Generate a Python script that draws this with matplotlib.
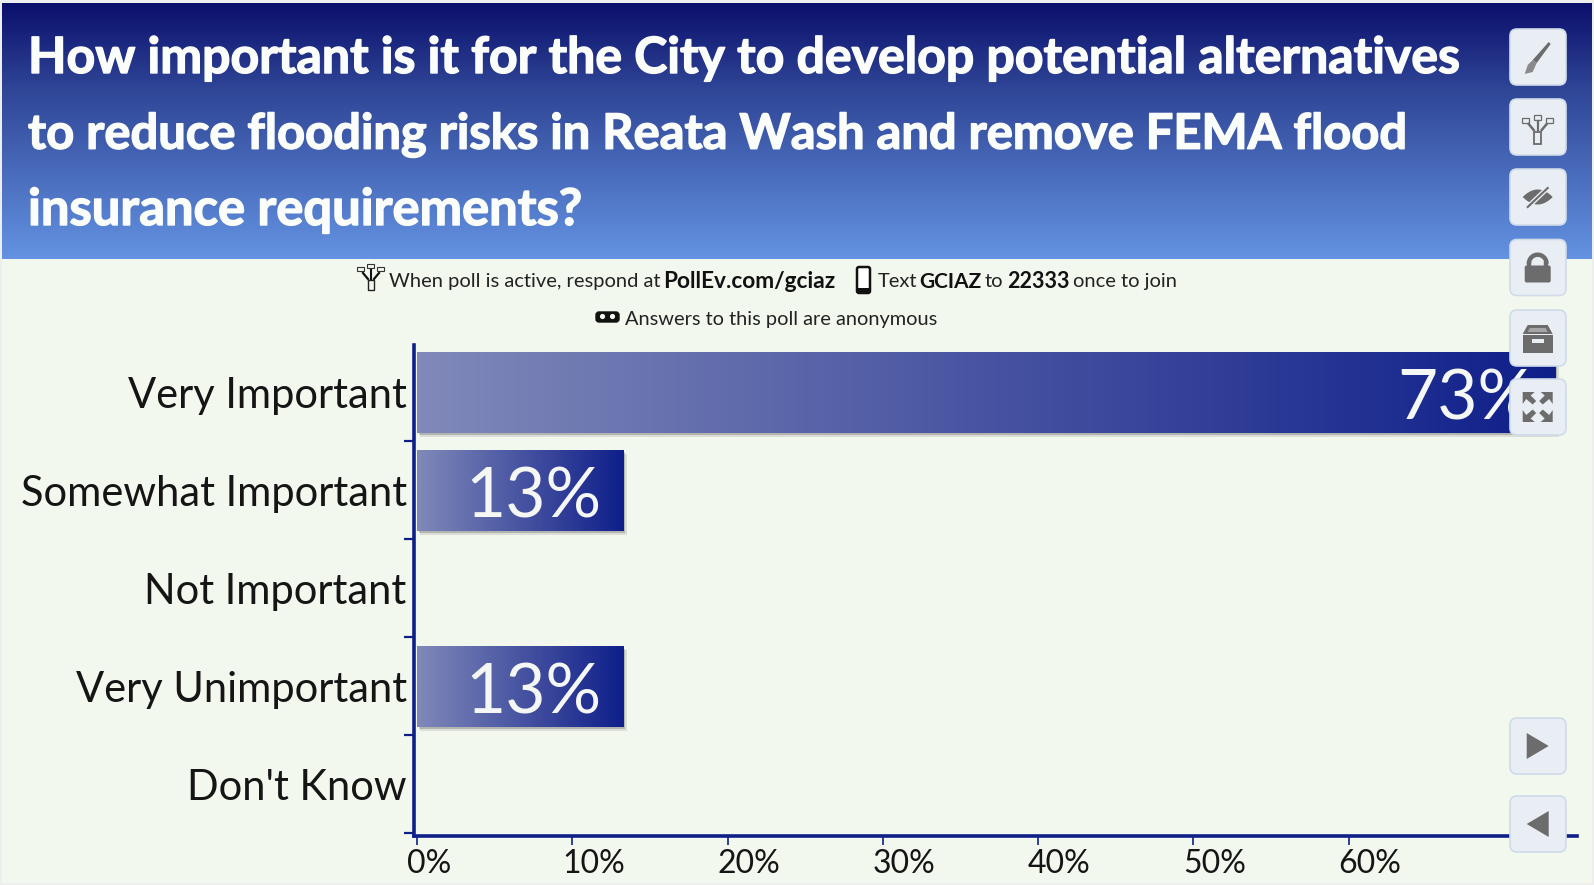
import numpy as np
import matplotlib
matplotlib.use('Agg')
import matplotlib.pyplot as plt
import matplotlib.patheffects as pe
from matplotlib.patches import FancyBboxPatch, Polygon, Rectangle, Circle
from matplotlib.ticker import FuncFormatter
from matplotlib.colors import LinearSegmentedColormap
from matplotlib.transforms import ScaledTranslation

W, H = 1594, 885
FONT = 'Lato'
NAVY = '#0f1f8a'
BG = '#f3f8ef'

categories = ['Very Important', 'Somewhat Important', 'Not Important', 'Very Unimportant', "Don't Know"]
shares = [73.3, 13.3, 0, 13.3, 0]
share_labels = ['73%', '13%', '', '13%', '']
x_ticks = [0, 10, 20, 30, 40, 50, 60]
title_lines = ['How important is it for the City to develop potential alternatives',
               'to reduce flooding risks in Reata Wash and remove FEMA flood',
               'insurance requirements?']

fig = plt.figure(figsize=(W/100, H/100), dpi=100, facecolor='#eeeeee')

page = fig.add_axes([0, 0, 1, 1], zorder=0)
page.axis('off')
page.add_patch(Rectangle((2, 3), 1590, 880, fc=BG, ec='none'))
hdr = LinearSegmentedColormap.from_list('h', ['#0b0f6c', '#2f4596', '#4a6cbc', '#6393e2'])
page.imshow(np.linspace(0, 1, 256)[:, None], cmap=hdr, extent=(2, 1592, 259, 3), aspect='auto', zorder=1)
page.set_xlim(0, W); page.set_ylim(H, 0)

for y, size, line in zip((58.5, 134.5, 210.5), (36, 35.2, 36.5), title_lines):
    page.text(28, y, line, color='#fbfdfb', fontsize=size, fontweight='bold', family=FONT, va='center', ha='left', zorder=3,
              path_effects=[pe.withStroke(linewidth=1.0, foreground='#fbfdfb')])

reg = dict(family=FONT, fontsize=14.5, va='center', ha='left', color='#222222', zorder=3)
bold = dict(family=FONT, va='center', ha='left', color='#111111', fontweight='bold', zorder=3)
ty = 281.5
page.text(389, ty, 'When poll is active, respond at', **reg)
page.text(663, ty, 'PollEv.com/gciaz', fontsize=16.3, **bold)
page.text(878, ty, 'Text', **reg)
page.text(919, ty, 'GCIAZ', fontsize=15, **bold)
page.text(985, ty, 'to', **reg)
page.text(1007.5, ty, '22333', fontsize=15.5, **bold)
page.text(1073.5, ty, 'once to join', **reg)
page.text(625, 320, 'Answers to this poll are anonymous', **{**reg, 'fontsize': 14.4})

# chart
ax = fig.add_axes([417/W, 1-833/H, (1577-417)/W, (833-342.5)/H], zorder=2)
ax.patch.set_alpha(0)
pos = np.arange(len(categories))
shadow = [pe.SimplePatchShadow(offset=(2.4, -2.4), alpha=0.10, shadow_rgbFace='k'),
          pe.SimplePatchShadow(offset=(1.4, -1.4), alpha=0.18, shadow_rgbFace='k'), pe.Normal()]
bars = ax.barh(pos + 0.012, shares, height=0.825, color=NAVY, zorder=1, path_effects=shadow)
cm = LinearSegmentedColormap.from_list('b', ['#8089b9', '#0f1f8a'])
for b, lab in zip(bars, share_labels):
    if b.get_width() == 0:
        continue
    x0, y0, w, h = b.get_x(), b.get_y(), b.get_width(), b.get_height()
    ax.imshow(np.linspace(0, 1, 256)[None, :], cmap=cm, extent=(x0, x0+w, y0+h, y0), aspect='auto', zorder=2)
    ax.text(x0+w-1.4, y0+h/2+0.07, lab, color='#f4f7f4', fontsize=50, family=FONT, va='center', ha='right', zorder=3)
ax.set_ylim(len(categories)-0.5, -0.5)
ax.set_xlim(0, 74.7)

# spines first: moving a spine resets the axis ticks
for s in ('top', 'right'):
    ax.spines[s].set_visible(False)
ax.spines['left'].set_color(NAVY); ax.spines['left'].set_linewidth(2.6)
ax.spines['left'].set_position(('outward', 2.2))
ax.spines['left'].set_bounds(4.53, -0.475)
ax.spines['bottom'].set_color(NAVY); ax.spines['bottom'].set_linewidth(2.6)
ax.spines['bottom'].set_position(('outward', 2.2))
ax.spines['bottom'].set_bounds(-0.2, 74.7)

ax.set_xticks(x_ticks)
ax.xaxis.set_major_formatter(FuncFormatter(lambda v, p: f'{v:.0f}%'))
ax.set_yticks(pos, categories)
ax.set_yticks(np.arange(1, len(categories)+1)-0.5, minor=True)
ax.tick_params(axis='y', which='major', length=0, pad=5.2)
ax.tick_params(axis='y', which='minor', length=7.2, width=1.6, color=NAVY)
ax.tick_params(axis='x', length=6.2, width=1.2, color=NAVY, pad=3)
xoff = ScaledTranslation(-10/100, 0, fig.dpi_scale_trans)
yoff = ScaledTranslation(0, -1/100, fig.dpi_scale_trans)
for t in ax.get_xticklabels():
    t.set_family(FONT); t.set_ha('left'); t.set_fontsize(23); t.set_color('#151515')
    t.set_transform(t.get_transform() + xoff)
for t in ax.get_yticklabels():
    t.set_family(FONT); t.set_fontsize(30); t.set_color('#151515')
    t.set_transform(t.get_transform() + yoff)

# buttons overlay
top = fig.add_axes([0, 0, 1, 1], zorder=5)
top.set_xlim(0, W); top.set_ylim(H, 0); top.axis('off')
G = '#6c6c6c'
PANEL = '#e9eef5'
centers = [57, 127, 197, 267.5, 338, 407, 746, 824]
for cy in centers:
    top.add_patch(FancyBboxPatch((1516, cy-22), 44, 44, boxstyle='round,pad=6,rounding_size=7', fc=PANEL, ec='#cfdbe8', lw=1.2))
cx = 1537.7
# brush
c = centers[0]
top.add_patch(Polygon([(cx+11, c-15), (cx+13, c-13), (cx-1, c+6), (cx-5, c+3)], fc=G))
top.add_patch(Polygon([(cx-5, c+3), (cx-1, c+6), (cx-5, c+15), (cx-13, c+17), (cx-10, c+8)], fc='#8a8a8a'))
# network
c = centers[1]
for dx, dy in ((-12, -7), (0, -10), (12, -7)):
    top.add_patch(Rectangle((cx+dx-3.5, c+dy-2.5), 7, 5, fc='none', ec=G, lw=0.9))
top.plot([cx, cx], [c-6, c+3], color=G, lw=1.6)
top.plot([cx-9, cx-4], [c-3, c+3], color=G, lw=1.8)
top.plot([cx+9, cx+4], [c-3, c+3], color=G, lw=1.8)
top.add_patch(Rectangle((cx-3.5, c+5), 7, 12, fc='none', ec=G, lw=1.3))
# eye
c = centers[2]
t = np.linspace(-15, 15, 40)
top.add_patch(Polygon(np.r_[np.c_[t, -7.5*(1-(t/15)**2)], np.c_[t[::-1], 7.5*(1-(t[::-1]/15)**2)]] + [cx, c], fc=G))
top.plot([cx-10, cx+10], [c+10, c-9], color=PANEL, lw=3.5)
top.plot([cx-10, cx+10], [c+10, c-9], color=G, lw=1.5)
# lock
c = centers[3]
top.add_patch(FancyBboxPatch((cx-12, c-1), 24, 15, boxstyle='round,pad=1,rounding_size=2', fc=G, ec='none'))
a = np.radians(np.linspace(180, 360, 30))
top.plot(cx+8.8*np.cos(a), c-4+8.8*np.sin(a), color=G, lw=3.2, solid_capstyle='butt')
top.plot([cx-8.8, cx-8.8], [c-4, c], color=G, lw=3.2)
top.plot([cx+8.8, cx+8.8], [c-4, c], color=G, lw=3.2)
# archive
c = centers[4]
top.add_patch(Polygon([(cx-15, c-4), (cx-10, c-13), (cx+10, c-13), (cx+15, c-4)], fc=G))
top.add_patch(Rectangle((cx-15, c-3), 30, 18, fc=G))
top.add_patch(Rectangle((cx-6, c+1), 12, 4, fc=PANEL))
top.add_patch(Polygon([(cx-10, c-6), (cx-8, c-10), (cx+8, c-10), (cx+10, c-6)], fc='#a5a5a5'))
# expand
c = centers[5]
for sx in (-1, 1):
    for sy in (-1, 1):
        top.add_patch(Polygon([(cx+sx*15, c+sy*15), (cx+sx*3, c+sy*15), (cx+sx*7, c+sy*11.5), (cx+sx*1.5, c+sy*6),
                               (cx+sx*5, c+sy*2.5), (cx+sx*11.5, c+sy*8), (cx+sx*15, c+sy*3)], fc=G))
# arrows
top.add_patch(Polygon([(cx-11, centers[6]-13), (cx+11, centers[6]), (cx-11, centers[6]+13)], fc=G))
top.add_patch(Polygon([(cx+11, centers[7]-13), (cx-11, centers[7]), (cx+11, centers[7]+13)], fc=G))

# small inline icons
c = 278
ix = 371
for dx, dy in ((-10, -9), (0, -12), (10, -9)):
    top.add_patch(Rectangle((ix+dx-3.5, c+dy-2), 7, 4, fc='none', ec='#333333', lw=0.8))
top.plot([ix, ix], [c-8, c+1], color='#111111', lw=1.5)
top.plot([ix-8, ix-3], [c-5, c+1], color='#111111', lw=1.6)
top.plot([ix+8, ix+3], [c-5, c+1], color='#111111', lw=1.6)
top.add_patch(Rectangle((ix-3, c+2), 6, 10, fc='none', ec='#222222', lw=1))
top.add_patch(FancyBboxPatch((858, 268), 11, 24, boxstyle='round,pad=1,rounding_size=2', fc='white', ec='#111111', lw=1.8))
top.add_patch(Rectangle((857, 288), 13, 5, fc='#111111'))
top.add_patch(FancyBboxPatch((597, 313), 21, 8, boxstyle='round,pad=1,rounding_size=3', fc='#111111', ec='#111111'))
top.add_patch(Circle((602.5, 316.5), 2.6, fc=BG))
top.add_patch(Circle((612.5, 316.5), 2.6, fc=BG))

fig.savefig('out.png', dpi=100, facecolor=fig.get_facecolor())
